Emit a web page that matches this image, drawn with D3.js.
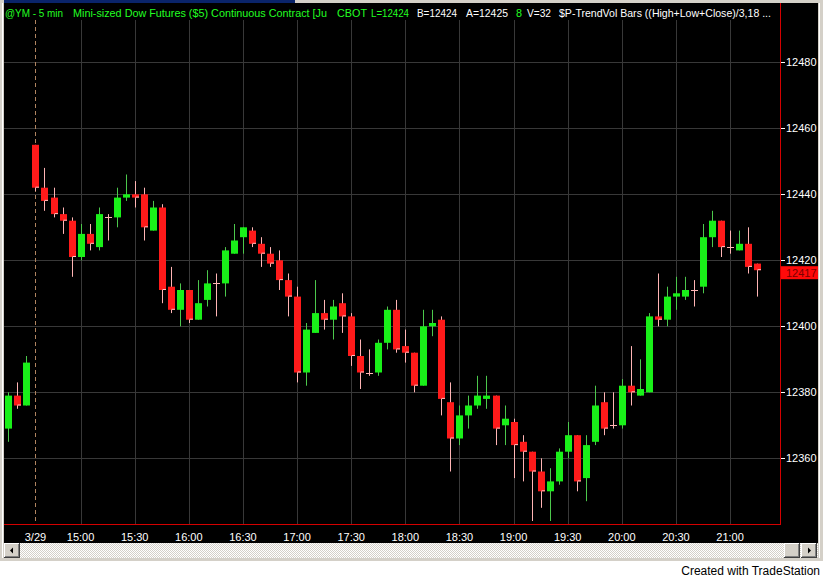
<!DOCTYPE html>
<html><head><meta charset="utf-8">
<script src="https://cdn.jsdelivr.net/npm/d3@7"></script>
<style>
body{margin:0;background:#fff;}
svg{display:block;font-family:"Liberation Sans",Arial,sans-serif;}
</style>
</head><body>
<svg id="c" width="823" height="577"></svg>
<script>
// ---- data ----
const times = ["14:20","14:25","14:30","14:35","14:40","14:45","14:50","14:55",
"15:00","15:05","15:10","15:15","15:20","15:25","15:30","15:35","15:40","15:45","15:50","15:55",
"16:00","16:05","16:10","16:15","16:20","16:25","16:30","16:35","16:40","16:45","16:50","16:55",
"17:00","17:05","17:10","17:15","17:20","17:25","17:30","17:35","17:40","17:45","17:50","17:55",
"18:00","18:05","18:10","18:15","18:20","18:25","18:30","18:35","18:40","18:45","18:50","18:55",
"19:00","19:05","19:10","19:15","19:20","19:25","19:30","19:35","19:40","19:45","19:50","19:55",
"20:00","20:05","20:10","20:15","20:20","20:25","20:30","20:35","20:40","20:45","20:50","20:55",
"21:00","21:05","21:10","21:15"];
const open  = [12369,12379,12376,12455,12442,12439,12434,12432,12421,12428,12424,12433,12433,12439,12440,12440,12429,12436,12412,12405,
12411,12402,12408,12413,12413,12422,12427,12429,12425,12422,12420,12414,12409,12386,12398,12404,12402,12407,12403,12391,
12386,12386,12395,12405,12394,12392,12382,12400,12402,12377,12366,12373,12376,12378,12379,12370,12371,12365,12362,12356,
12350,12353,12362,12367,12354,12365,12377,12370,12370,12382,12379,12380,12403,12402,12409,12409,12411,12412,12427,12432,
12424,12423,12425,12419];
const high  = [12380,12383,12391,12455,12448,12442,12436,12433,12431,12431,12436,12434,12442,12446,12444,12442,12438,12437,12418,12413,
12411,12414,12417,12416,12424,12431,12430,12430,12427,12424,12423,12416,12412,12401,12414,12408,12408,12410,12404,12396,
12393,12396,12406,12408,12399,12392,12405,12405,12403,12383,12376,12379,12385,12385,12379,12376,12372,12367,12362,12360,
12357,12363,12371,12367,12367,12382,12380,12380,12384,12394,12390,12404,12416,12412,12415,12415,12414,12431,12435,12432,
12429,12429,12430,12419];
const low   = [12365,12375,12376,12441,12435,12433,12428,12415,12420,12423,12423,12426,12430,12438,12436,12426,12429,12407,12404,12400,
12401,12402,12406,12403,12409,12422,12422,12424,12418,12418,12411,12403,12383,12382,12398,12399,12396,12398,12388,12381,
12385,12385,12393,12392,12389,12380,12382,12397,12373,12356,12364,12369,12375,12375,12364,12364,12354,12353,12341,12345,
12341,12352,12360,12350,12347,12364,12367,12369,12369,12376,12379,12380,12400,12400,12405,12408,12406,12410,12424,12421,
12422,12423,12416,12409];
const close = [12379,12376,12389,12442,12438,12434,12432,12421,12428,12425,12434,12433,12439,12440,12439,12430,12436,12411,12405,12411,
12402,12407,12413,12413,12423,12426,12430,12425,12422,12419,12414,12409,12386,12399,12404,12402,12406,12403,12391,12386,
12386,12395,12405,12393,12392,12382,12400,12401,12378,12366,12373,12376,12379,12379,12369,12372,12364,12362,12356,12350,
12353,12362,12367,12353,12364,12376,12369,12370,12382,12380,12381,12403,12402,12409,12410,12411,12411,12427,12432,12424,
12424,12425,12418,12417];
const yTicks = [12360,12380,12400,12420,12440,12460,12480];
const xTickLabels = ["3/29","15:00","15:30","16:00","16:30","17:00","17:30","18:00","18:30","19:00","19:30","20:00","20:30","21:00"];
const xTickTimes  = ["14:35","15:00","15:30","16:00","16:30","17:00","17:30","18:00","18:30","19:00","19:30","20:00","20:30","21:00"];
const lastPrice = 12417;
const titleSegs = [
  {t:"@YM - 5 min", x:5, w:58, c:"#22ff22"},
  {t:"Mini-sized Dow Futures ($5) Continuous Contract [Ju", x:73, w:254, c:"#22ff22"},
  {t:"CBOT", x:337, w:30, c:"#22ff22"},
  {t:"L=12424", x:371, w:38, c:"#22ff22"},
  {t:"B=12424", x:417, w:40, c:"#ffffff"},
  {t:"A=12425", x:466, w:42, c:"#ffffff"},
  {t:"8", x:516, w:6, c:"#22ff22"},
  {t:"V=32", x:527, w:24, c:"#ffffff"},
  {t:"$P-TrendVol Bars ((High+Low+Close)/3,18 ...", x:559, w:212, c:"#ffffff"}
];

// ---- drawing ----
const svg = d3.select("#c");
const W = 823, H = 577;
const plotL = 4, plotR = 780, plotT = 20, plotB = 524.5;

const x = d3.scalePoint().domain(times).range([8.4, 757.1]);
const y = d3.scaleLinear().domain([12340, 12480]).range([524.3, 62.3]);

// window chrome
svg.append("rect").attr("x",0).attr("y",0).attr("width",W).attr("height",H).attr("fill","#ffffff");
svg.append("rect").attr("x",0).attr("y",0).attr("width",W).attr("height",561).attr("fill","#d4d0c8");
svg.append("rect").attr("x",4).attr("y",0).attr("width",291).attr("height",3).attr("fill","#0a246a");
svg.append("rect").attr("x",2).attr("y",3).attr("width",1).attr("height",556).attr("fill","#ffffff");
svg.append("rect").attr("x",4).attr("y",3).attr("width",814).attr("height",540).attr("fill","#000000");
svg.append("rect").attr("x",819).attr("y",3).attr("width",1).attr("height",556).attr("fill","#ffffff");

// grid
const g = svg.append("g");
g.selectAll("line.hg").data(yTicks).join("line")
  .attr("x1",plotL).attr("x2",plotR)
  .attr("y1",d=>Math.round(y(d))+0.5).attr("y2",d=>Math.round(y(d))+0.5)
  .attr("stroke","#383838").attr("stroke-width",1);
g.selectAll("line.vg").data(xTickTimes.slice(1)).join("line")
  .attr("x1",d=>Math.round(x(d))+0.5).attr("x2",d=>Math.round(x(d))+0.5)
  .attr("y1",plotT).attr("y2",plotB)
  .attr("stroke","#383838").attr("stroke-width",1);
// date separator
g.append("line")
  .attr("x1",Math.round(x(xTickTimes[0]))+0.5).attr("x2",Math.round(x(xTickTimes[0]))+0.5)
  .attr("y1",plotT).attr("y2",plotB)
  .attr("stroke","#b08460").attr("stroke-width",1).attr("stroke-dasharray","4,3");

// candles
const data = times.map((t,i)=>({t,o:open[i],h:high[i],l:low[i],c:close[i]}));
const cg = svg.append("g");
data.forEach(d=>{
  const cx = Math.round(x(d.t));
  const up = d.c > d.o, doji = d.c === d.o;
  const wickCol = doji ? "#ffb4b4" : (up ? "#4cc84c" : "#ffb4b4");
  cg.append("line").attr("x1",cx+0.5).attr("x2",cx+0.5)
    .attr("y1",y(d.h)).attr("y2",y(d.l)).attr("stroke",wickCol).attr("stroke-width",1);
  if (doji) {
    cg.append("line").attr("x1",cx-3).attr("x2",cx+4)
      .attr("y1",Math.round(y(d.c))+0.5).attr("y2",Math.round(y(d.c))+0.5)
      .attr("stroke","#ffb4b4").attr("stroke-width",1);
  } else {
    const top = y(Math.max(d.o,d.c)), bot = y(Math.min(d.o,d.c));
    cg.append("rect").attr("x",cx-3).attr("width",7)
      .attr("y",top).attr("height",Math.max(1,bot-top))
      .attr("fill", up ? "#19f019" : "#ff1a1a");
    if (!up) {
      cg.append("line").attr("x1",cx+0.5).attr("x2",cx+4)
        .attr("y1",bot-0.5).attr("y2",bot-0.5).attr("stroke","#ffc0c0").attr("stroke-width",1);
    }
  }
});

// red frame lines
svg.append("line").attr("x1",plotR+0.5).attr("x2",plotR+0.5).attr("y1",3).attr("y2",plotB)
  .attr("stroke","#d40000").attr("stroke-width",1);
svg.append("line").attr("x1",plotL).attr("x2",plotR+1).attr("y1",plotB).attr("y2",plotB)
  .attr("stroke","#d40000").attr("stroke-width",1);

// y axis labels
const ya = svg.append("g");
ya.selectAll("line").data(yTicks).join("line")
  .attr("x1",plotR+1).attr("x2",plotR+5)
  .attr("y1",d=>Math.round(y(d))+0.5).attr("y2",d=>Math.round(y(d))+0.5)
  .attr("stroke","#ffffff");
ya.selectAll("text").data(yTicks).join("text")
  .attr("x",786).attr("y",d=>y(d)+4)
  .attr("fill","#ffffff").attr("font-size",11).text(d=>d);
// last price box
const ly = y(lastPrice) + 2.5;
svg.append("rect").attr("x",781).attr("y",ly-6.5).attr("width",37).attr("height",13).attr("fill","#ff0a0a");
svg.append("text").attr("x",786).attr("y",ly+4).attr("fill","#7a0000").attr("font-size",11).text(lastPrice);

// x axis labels
svg.append("g").selectAll("text").data(xTickLabels).join("text")
  .attr("x",(d,i)=>x(xTickTimes[i])).attr("y",541)
  .attr("text-anchor","middle").attr("fill","#ffffff").attr("font-size",11).text(d=>d);

// title
svg.append("g").selectAll("text").data(titleSegs).join("text")
  .attr("x",d=>d.x).attr("y",17).attr("fill",d=>d.c).attr("font-size",10.5)
  .attr("textLength",d=>d.w).attr("lengthAdjust","spacingAndGlyphs").text(d=>d.t);

// scrollbar
const defs = svg.append("defs");
const pat = defs.append("pattern").attr("id","chk").attr("width",2).attr("height",2).attr("patternUnits","userSpaceOnUse");
pat.append("rect").attr("width",2).attr("height",2).attr("fill","#ffffff");
pat.append("rect").attr("width",1).attr("height",1).attr("fill","#d4d0c8");
pat.append("rect").attr("x",1).attr("y",1).attr("width",1).attr("height",1).attr("fill","#d4d0c8");
svg.append("rect").attr("x",4).attr("y",543).attr("width",814).attr("height",15).attr("fill","url(#chk)");
function button(bx, arrow){
  const b = svg.append("g");
  b.append("rect").attr("x",bx).attr("y",543).attr("width",16).attr("height",15).attr("fill","#404040");
  b.append("rect").attr("x",bx).attr("y",543).attr("width",15).attr("height",14).attr("fill","#ffffff");
  b.append("rect").attr("x",bx+1).attr("y",544).attr("width",14).attr("height",13).attr("fill","#808080");
  b.append("rect").attr("x",bx+1).attr("y",544).attr("width",13).attr("height",12).attr("fill","#d4d0c8");
  const cx = bx+8, cy = 550.5;
  if (arrow==="l") b.append("path").attr("d",`M${cx-2},${cy} L${cx+1},${cy-3} L${cx+1},${cy+3} Z`).attr("fill","#000");
  if (arrow==="r") b.append("path").attr("d",`M${cx+2},${cy} L${cx-1},${cy-3} L${cx-1},${cy+3} Z`).attr("fill","#000");
}
button(4,"l");
button(784,null);
button(801,"r");
svg.append("rect").attr("x",0).attr("y",558).attr("width",W).attr("height",3).attr("fill","#d4d0c8");
svg.append("rect").attr("x",0).attr("y",561).attr("width",W).attr("height",16).attr("fill","#ffffff");

// footer
svg.append("text").attr("x",820).attr("y",575).attr("text-anchor","end")
  .attr("fill","#000").attr("font-size",12).text("Created with TradeStation");
</script>
</body></html>
